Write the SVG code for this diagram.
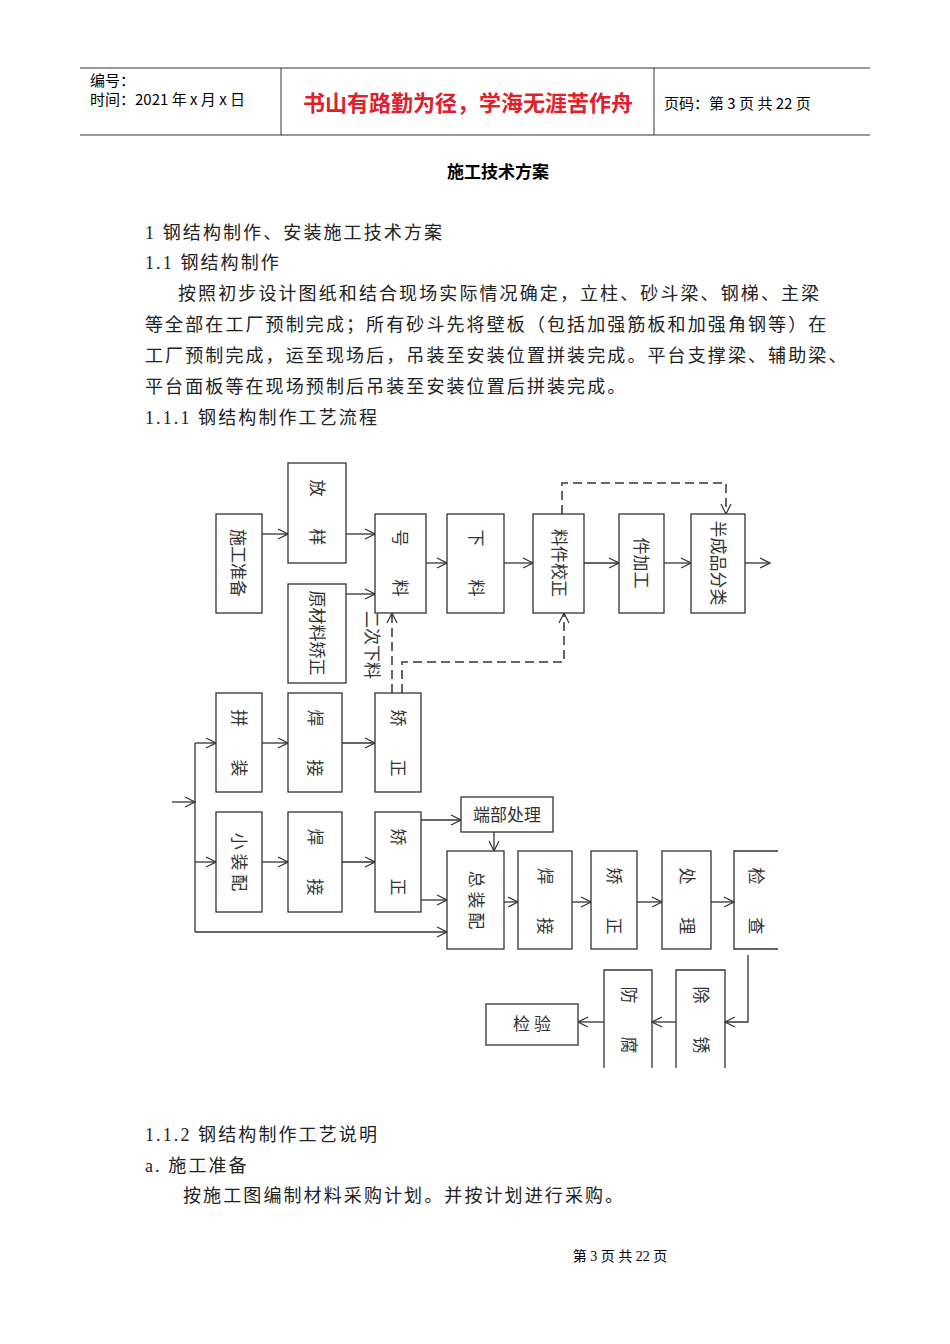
<svg xmlns="http://www.w3.org/2000/svg" width="950" height="1344" viewBox="0 0 950 1344">
<defs>
<marker id="a" markerWidth="12" markerHeight="12" refX="11" refY="6" orient="auto" markerUnits="userSpaceOnUse"><path d="M1,1 L11,6 L1,11" fill="none" stroke="#333" stroke-width="1.2"/></marker>
</defs>
<style>
.b{fill:#fff;stroke:#333;stroke-width:1.3}
.t{font-family:"Noto Sans CJK SC","Liberation Sans",sans-serif;font-size:17px;fill:#333}
.s{font-family:"Liberation Serif","Noto Sans CJK SC",serif;font-size:18px;fill:#222;letter-spacing:2.1px}
.c{fill:none;stroke:#333;stroke-width:1.3}
.d{fill:none;stroke:#666;stroke-width:2;stroke-dasharray:9,5}
</style>
<rect width="950" height="1344" fill="#fff"/>
<g id="header">
<line x1="80" y1="68" x2="870" y2="68" stroke="#333"/>
<line x1="80" y1="135" x2="870" y2="135" stroke="#333"/>
<line x1="281" y1="68" x2="281" y2="135" stroke="#333"/>
<line x1="654" y1="68" x2="654" y2="135" stroke="#333"/>
<text x="90" y="86" font-family="Noto Sans CJK SC,sans-serif" font-size="15">编号：</text>
<text x="90" y="105" font-family="Noto Sans CJK SC,sans-serif" font-size="15">时间：2021 年 x 月 x 日</text>
<text x="468" y="111" text-anchor="middle" font-family="Noto Sans CJK SC,sans-serif" font-size="22" font-weight="bold" fill="#e0202a">书山有路勤为径，学海无涯苦作舟</text>
<text x="664" y="109" font-family="Noto Sans CJK SC,sans-serif" font-size="15">页码：第 3 页  共 22 页</text>
</g>
<g id="body">
<text x="498" y="178" text-anchor="middle" font-family="Noto Sans CJK SC,sans-serif" font-size="17" font-weight="bold">施工技术方案</text>
<text class="s" x="145" y="239">1 钢结构制作、安装施工技术方案</text>
<text class="s" x="145" y="269">1.1  钢结构制作</text>
<text class="s" x="178" y="300">按照初步设计图纸和结合现场实际情况确定，立柱、砂斗梁、钢梯、主梁</text>
<text class="s" x="145" y="331">等全部在工厂预制完成；所有砂斗先将壁板（包括加强筋板和加强角钢等）在</text>
<text class="s" x="145" y="362">工厂预制完成，运至现场后，吊装至安装位置拼装完成。平台支撑梁、辅助梁、</text>
<text class="s" x="145" y="393">平台面板等在现场预制后吊装至安装位置后拼装完成。</text>
<text class="s" x="145" y="424">1.1.1 钢结构制作工艺流程</text>
<text class="s" x="145" y="1141">1.1.2 钢结构制作工艺说明</text>
<text class="s" x="145" y="1172">a. 施工准备</text>
<text class="s" x="183" y="1202">按施工图编制材料采购计划。并按计划进行采购。</text>
<text x="620" y="1261" text-anchor="middle" font-family="Liberation Serif,Noto Sans CJK SC,serif" font-size="14">第 3 页 共 22 页</text>
</g>
<g id="connectors">
<path class="c" marker-end="url(#a)" d="M262,534 H288"/>
<path class="c" marker-end="url(#a)" d="M346,534 H375"/>
<path class="c" marker-end="url(#a)" d="M346,594 H375"/>
<path class="c" marker-end="url(#a)" d="M426,563 H447"/>
<path class="c" marker-end="url(#a)" d="M504,563 H533"/>
<path class="c" marker-end="url(#a)" d="M584,563 H619"/>
<path class="c" marker-end="url(#a)" d="M664,563 H691"/>
<path class="c" marker-end="url(#a)" d="M745,563 H770"/>
<path class="d" marker-end="url(#a)" d="M562,514 V483 H726 V514"/>
<path class="d" marker-end="url(#a)" d="M402,693 V662 H564 V613"/>
<path class="d" marker-end="url(#a)" d="M392,693 V613"/>
<path class="c" marker-end="url(#a)" d="M172,802 H195"/>
<path class="c" d="M195,743 V932"/>
<path class="c" marker-end="url(#a)" d="M195,743 H216"/>
<path class="c" marker-end="url(#a)" d="M262,743 H288"/>
<path class="c" marker-end="url(#a)" d="M342,743 H375"/>
<path class="c" marker-end="url(#a)" d="M195,862 H216"/>
<path class="c" marker-end="url(#a)" d="M262,862 H288"/>
<path class="c" marker-end="url(#a)" d="M342,862 H375"/>
<path class="c" marker-end="url(#a)" d="M195,932 H447"/>
<path class="c" marker-end="url(#a)" d="M421,820 H461"/>
<path class="c" marker-end="url(#a)" d="M421,900 H447"/>
<path class="c" marker-end="url(#a)" d="M494,832 V851"/>
<path class="c" marker-end="url(#a)" d="M504,902 H518"/>
<path class="c" marker-end="url(#a)" d="M572,902 H591"/>
<path class="c" marker-end="url(#a)" d="M637,902 H662"/>
<path class="c" marker-end="url(#a)" d="M711,902 H734"/>
<path class="c" marker-end="url(#a)" d="M748,955 V1022 H725"/>
<path class="c" marker-end="url(#a)" d="M676,1022 H652"/>
<path class="c" marker-end="url(#a)" d="M604,1022 H578"/>
</g>
<g id="n1"><rect class="b" x="216" y="514" width="46" height="99"/><text class="t" transform="translate(232,563) rotate(90)" text-anchor="middle">施工准备</text></g>
<g id="n2"><rect class="b" x="288" y="463" width="58" height="100"/><text class="t" transform="translate(311,488) rotate(90)" text-anchor="middle">放</text><text class="t" transform="translate(311,537) rotate(90)" text-anchor="middle">样</text></g>
<g id="n3"><rect class="b" x="288" y="584" width="58" height="99"/><text class="t" transform="translate(311,633) rotate(90)" text-anchor="middle">原材料矫正</text></g>
<g id="n4"><rect class="b" x="375" y="514" width="51" height="99"/><text class="t" transform="translate(394,538) rotate(90)" text-anchor="middle">号</text><text class="t" transform="translate(394,588) rotate(90)" text-anchor="middle">料</text></g>
<g id="n5"><rect class="b" x="447" y="514" width="57" height="99"/><text class="t" transform="translate(470,538) rotate(90)" text-anchor="middle">下</text><text class="t" transform="translate(470,588) rotate(90)" text-anchor="middle">料</text></g>
<g id="n6"><rect class="b" x="533" y="514" width="51" height="99"/><text class="t" transform="translate(553,563) rotate(90)" text-anchor="middle">料件校正</text></g>
<g id="n7"><rect class="b" x="619" y="514" width="45" height="99"/><text class="t" transform="translate(635,563) rotate(90)" text-anchor="middle">件加工</text></g>
<g id="n8"><rect class="b" x="691" y="514" width="54" height="99"/><text class="t" transform="translate(712,563) rotate(90)" text-anchor="middle">半成品分类</text></g>
<text class="t" transform="translate(366,645) rotate(90)" text-anchor="middle">二次下料</text>
<g id="n9"><rect class="b" x="216" y="693" width="46" height="99"/><text class="t" transform="translate(233,718) rotate(90)" text-anchor="middle">拼</text><text class="t" transform="translate(233,768) rotate(90)" text-anchor="middle">装</text></g>
<g id="n10"><rect class="b" x="288" y="693" width="54" height="99"/><text class="t" transform="translate(309,718) rotate(90)" text-anchor="middle">焊</text><text class="t" transform="translate(309,768) rotate(90)" text-anchor="middle">接</text></g>
<g id="n11"><rect class="b" x="375" y="693" width="46" height="99"/><text class="t" transform="translate(392,718) rotate(90)" text-anchor="middle">矫</text><text class="t" transform="translate(392,768) rotate(90)" text-anchor="middle">正</text></g>
<g id="n12"><rect class="b" x="216" y="812" width="46" height="100"/><text class="t" transform="translate(233,862) rotate(90)" text-anchor="middle">小 装 配</text></g>
<g id="n13"><rect class="b" x="288" y="812" width="54" height="100"/><text class="t" transform="translate(309,837) rotate(90)" text-anchor="middle">焊</text><text class="t" transform="translate(309,887) rotate(90)" text-anchor="middle">接</text></g>
<g id="n14"><rect class="b" x="375" y="812" width="46" height="100"/><text class="t" transform="translate(392,837) rotate(90)" text-anchor="middle">矫</text><text class="t" transform="translate(392,887) rotate(90)" text-anchor="middle">正</text></g>
<g id="n15"><rect class="b" x="461" y="797" width="92" height="35"/><text class="t" x="507" y="821" text-anchor="middle">端部处理</text></g>
<g id="n16"><rect class="b" x="447" y="851" width="57" height="98"/><text class="t" transform="translate(470,900) rotate(90)" text-anchor="middle">总 装 配</text></g>
<g id="n17"><rect class="b" x="518" y="851" width="54" height="98"/><text class="t" transform="translate(539,876) rotate(90)" text-anchor="middle">焊</text><text class="t" transform="translate(539,926) rotate(90)" text-anchor="middle">接</text></g>
<g id="n18"><rect class="b" x="591" y="851" width="46" height="98"/><text class="t" transform="translate(608,876) rotate(90)" text-anchor="middle">矫</text><text class="t" transform="translate(608,926) rotate(90)" text-anchor="middle">正</text></g>
<g id="n19"><rect class="b" x="662" y="851" width="49" height="98"/><text class="t" transform="translate(681,876) rotate(90)" text-anchor="middle">处</text><text class="t" transform="translate(681,926) rotate(90)" text-anchor="middle">理</text></g>
<g id="n20"><path class="c" d="M778,851 H734 V949 H778"/><text class="t" transform="translate(750,876) rotate(90)" text-anchor="middle">检</text><text class="t" transform="translate(750,926) rotate(90)" text-anchor="middle">查</text></g>
<g id="n21"><path class="c" d="M676,1068 V970 H725 V1068"/><text class="t" transform="translate(695,995) rotate(90)" text-anchor="middle">除</text><text class="t" transform="translate(695,1045) rotate(90)" text-anchor="middle">锈</text></g>
<g id="n22"><path class="c" d="M604,1068 V970 H652 V1068"/><text class="t" transform="translate(623,995) rotate(90)" text-anchor="middle">防</text><text class="t" transform="translate(623,1045) rotate(90)" text-anchor="middle">腐</text></g>
<g id="n23"><rect class="b" x="486" y="1004" width="92" height="41"/><text class="t" x="532" y="1030" text-anchor="middle">检  验</text></g>
</svg>
